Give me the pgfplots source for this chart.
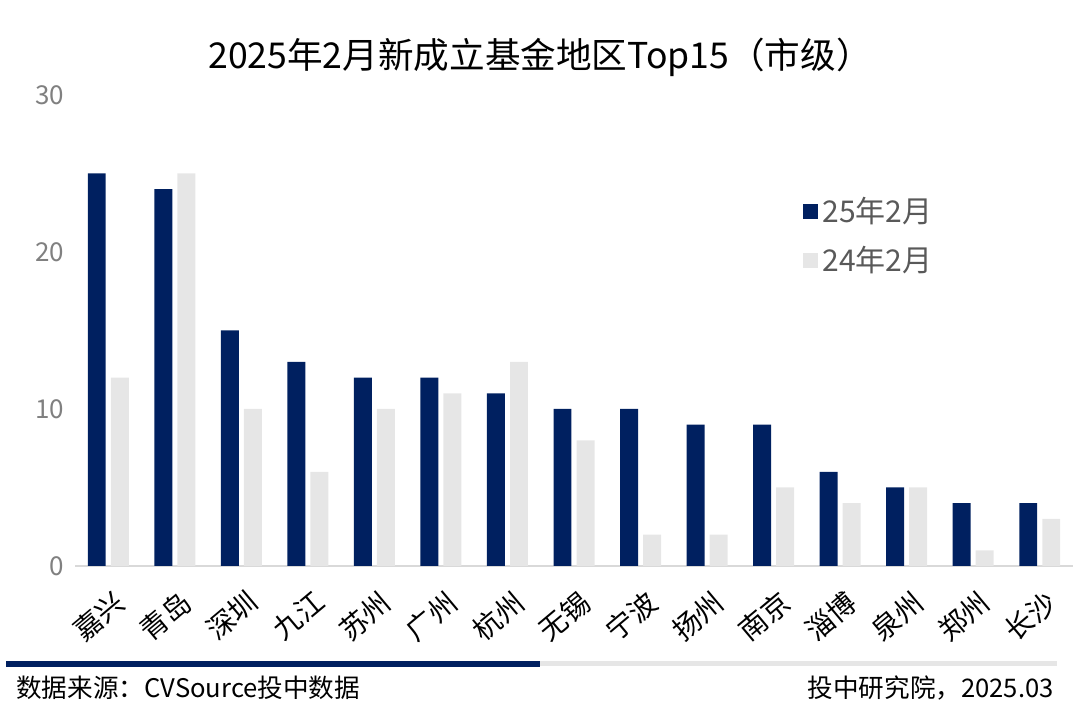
\documentclass[border=0pt]{standalone}
\usepackage{fontspec}
\setmainfont{Noto Sans CJK SC}
\usepackage{pgfplots}
\pgfplotsset{compat=1.18}
\definecolor{navy}{HTML}{002060}
\definecolor{lightbar}{HTML}{E6E6E6}
\definecolor{linegray}{HTML}{D9D9D9}
\definecolor{tickgray}{HTML}{808080}
\definecolor{legtext}{HTML}{595959}

\begin{document}
\begin{tikzpicture}
\path (0,0) rectangle (540pt,358pt);
\begin{axis}[at={(37.5pt,75pt)},anchor=south west,scale only axis,
  width=499pt,height=235.5pt,
  xmin=-0.5,xmax=14.5,ymin=0,ymax=30,enlargelimits=false,
  axis x line=bottom,axis y line=left,axis line style={-},
  y axis line style={draw=none},
  x axis line style={draw=linegray,line width=0.8pt},
  major tick length=0pt,
  ytick={0,10,20,30},
  yticklabel style={font=\fontsize{13pt}{13pt}\selectfont,text=tickgray,xshift=-2pt},
  /pgf/number format/assume math mode=true,
  xtick=data,
  xticklabels={嘉兴,青岛,深圳,九江,苏州,广州,杭州,无锡,宁波,扬州,南京,淄博,泉州,郑州,长沙},
  xticklabel style={font=\fontsize{14pt}{14pt}\selectfont,rotate=40,anchor=north east,inner sep=0.5pt,yshift=-9pt,xshift=-5pt},
  ybar,bar width=0.27,
  legend style={at={(0.7234,0.80)},anchor=north west,draw=none,fill=none,
    font=\fontsize{15pt}{15pt}\selectfont,text=legtext,row sep=6pt,
    /tikz/every even column/.append style={column sep=7pt}},
  legend cell align=left,
  legend image code/.code={\fill[#1,draw=none] (0pt,-3.75pt) rectangle (7.5pt,3.75pt);},
]
\addplot[fill=navy,draw=none,bar shift=-0.173] coordinates {
  (0,25) (1,24) (2,15) (3,13) (4,12) (5,12) (6,11) (7,10) (8,10) (9,9) (10,9) (11,6) (12,5) (13,4) (14,4)};
\addplot[fill=lightbar,draw=none,bar shift=0.173] coordinates {
  (0,12) (1,25) (2,10) (3,6) (4,10) (5,11) (6,13) (7,8) (8,2) (9,2) (10,5) (11,4) (12,5) (13,1) (14,3)};
\legend{25年2月,24年2月}
\end{axis}
\node[font=\fontsize{17.8pt}{17.8pt}\selectfont] at (270pt,329.5pt) {2025年2月新成立基金地区Top15（市级）};
\draw[navy,line width=2.75pt] (3pt,26pt) -- (270pt,26pt);
\draw[lightbar,line width=2.5pt] (270pt,26pt) -- (528.5pt,26pt);
\node[anchor=west,font=\fontsize{12.8pt}{12.8pt}\selectfont,inner sep=0pt] at (8pt,14pt) {数据来源：CVSource投中数据};
\node[anchor=east,font=\fontsize{12.8pt}{12.8pt}\selectfont,inner sep=0pt] at (527pt,14pt) {投中研究院，2025.03};
\end{tikzpicture}
\end{document}
